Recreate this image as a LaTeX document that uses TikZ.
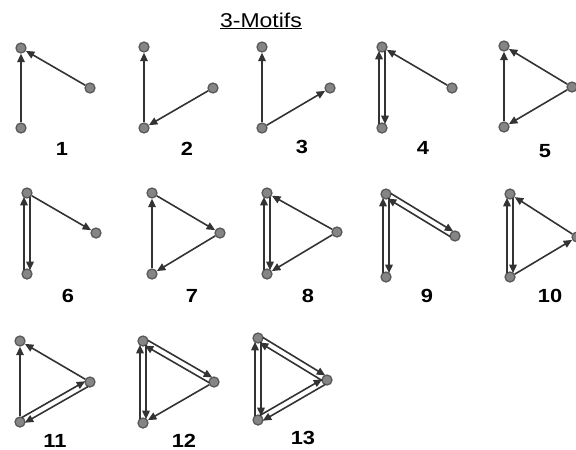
\documentclass[tikz,border=0pt]{standalone}
\usepackage{fontspec}
\newfontfamily\motiffont[FakeStretch=1.15]{Liberation Sans}
\usetikzlibrary{arrows.meta,calc}

\begin{document}
\begin{tikzpicture}[x=1pt,y=-1pt,site/.style={circle,draw=black!65,fill=black!48,line width=1.3pt,minimum size=10pt,inner sep=0pt},link/.style={draw=black!80,line width=1.6pt,-{Triangle[length=8.5pt,width=7.5pt]}},pair/.style={shorten <=3.8pt,shorten >=3.8pt},tag/.style={anchor=base,inner sep=0pt,font=\motiffont\fontsize{19}{19}\selectfont\bfseries}]
\useasboundingbox (0,0) rectangle (576,450);
\node[anchor=base,inner sep=0pt,font=\motiffont\fontsize{20}{20}\selectfont] (title) at (261,27) {\underline{3-Motifs}};
% row 1
\node[site] (t1) at (21,48) {};
\node[site] (b1) at (21,128) {};
\node[site] (r1) at (90,88) {};
\node[site] (t2) at (144,47) {};
\node[site] (b2) at (144,128) {};
\node[site] (r2) at (213,88) {};
\node[site] (t3) at (262,47) {};
\node[site] (b3) at (262,128) {};
\node[site] (r3) at (330,88) {};
\node[site] (t4) at (382,47) {};
\node[site] (b4) at (382,128) {};
\node[site] (r4) at (452,88) {};
\node[site] (t5) at (504,46) {};
\node[site] (b5) at (504,127) {};
\node[site] (r5) at (572,87) {};
% row 2
\node[site] (t6) at (27,193) {};
\node[site] (b6) at (27,274) {};
\node[site] (r6) at (96,233) {};
\node[site] (t7) at (152,193) {};
\node[site] (b7) at (152,274) {};
\node[site] (r7) at (220,233) {};
\node[site] (t8) at (267,193) {};
\node[site] (b8) at (267,274) {};
\node[site] (r8) at (337,232) {};
\node[site] (t9) at (386,194) {};
\node[site] (b9) at (386,277) {};
\node[site] (r9) at (455,236) {};
\node[site] (t10) at (510,194) {};
\node[site] (b10) at (510,277) {};
\node[site] (r10) at (577,237) {};
% row 3
\node[site] (t11) at (20,341) {};
\node[site] (b11) at (20,422) {};
\node[site] (r11) at (90,382) {};
\node[site] (t12) at (143,341) {};
\node[site] (b12) at (143,423) {};
\node[site] (r12) at (214,382) {};
\node[site] (t13) at (258,338) {};
\node[site] (b13) at (258,420) {};
\node[site] (r13) at (327,380) {};
% motif 1
\draw[link] (b1) -- (t1);
\draw[link] (r1) -- (t1);
% motif 2
\draw[link] (b2) -- (t2);
\draw[link] (r2) -- (b2);
% motif 3
\draw[link] (b3) -- (t3);
\draw[link] (b3) -- (r3);
% motif 4
\draw[link,pair] ($(b4)!3pt!90:(t4)$) -- ($(t4)!3pt!-90:(b4)$);
\draw[link,pair] ($(t4)!3pt!90:(b4)$) -- ($(b4)!3pt!-90:(t4)$);
\draw[link] (r4) -- (t4);
% motif 5
\draw[link] (b5) -- (t5);
\draw[link] (r5) -- (t5);
\draw[link] (r5) -- (b5);
% motif 6
\draw[link,pair] ($(b6)!3pt!90:(t6)$) -- ($(t6)!3pt!-90:(b6)$);
\draw[link,pair] ($(t6)!3pt!90:(b6)$) -- ($(b6)!3pt!-90:(t6)$);
\draw[link] (t6) -- (r6);
% motif 7
\draw[link] (b7) -- (t7);
\draw[link] (t7) -- (r7);
\draw[link] (r7) -- (b7);
% motif 8
\draw[link,pair] ($(b8)!3pt!90:(t8)$) -- ($(t8)!3pt!-90:(b8)$);
\draw[link,pair] ($(t8)!3pt!90:(b8)$) -- ($(b8)!3pt!-90:(t8)$);
\draw[link] (r8) -- (t8);
\draw[link] (r8) -- (b8);
% motif 9
\draw[link,pair] ($(b9)!3pt!90:(t9)$) -- ($(t9)!3pt!-90:(b9)$);
\draw[link,pair] ($(t9)!3pt!90:(b9)$) -- ($(b9)!3pt!-90:(t9)$);
\draw[link,pair] ($(t9)!3pt!90:(r9)$) -- ($(r9)!3pt!-90:(t9)$);
\draw[link,pair] ($(r9)!3pt!90:(t9)$) -- ($(t9)!3pt!-90:(r9)$);
% motif 10
\draw[link,pair] ($(b10)!3pt!90:(t10)$) -- ($(t10)!3pt!-90:(b10)$);
\draw[link,pair] ($(t10)!3pt!90:(b10)$) -- ($(b10)!3pt!-90:(t10)$);
\draw[link] (r10) -- (t10);
\draw[link] (b10) -- (r10);
% motif 11
\draw[link] (b11) -- (t11);
\draw[link] (r11) -- (t11);
\draw[link,pair] ($(b11)!3pt!90:(r11)$) -- ($(r11)!3pt!-90:(b11)$);
\draw[link,pair] ($(r11)!3pt!90:(b11)$) -- ($(b11)!3pt!-90:(r11)$);
% motif 12
\draw[link,pair] ($(b12)!3pt!90:(t12)$) -- ($(t12)!3pt!-90:(b12)$);
\draw[link,pair] ($(t12)!3pt!90:(b12)$) -- ($(b12)!3pt!-90:(t12)$);
\draw[link,pair] ($(t12)!3pt!90:(r12)$) -- ($(r12)!3pt!-90:(t12)$);
\draw[link,pair] ($(r12)!3pt!90:(t12)$) -- ($(t12)!3pt!-90:(r12)$);
\draw[link] (r12) -- (b12);
% motif 13
\draw[link,pair] ($(b13)!3pt!90:(t13)$) -- ($(t13)!3pt!-90:(b13)$);
\draw[link,pair] ($(t13)!3pt!90:(b13)$) -- ($(b13)!3pt!-90:(t13)$);
\draw[link,pair] ($(t13)!3pt!90:(r13)$) -- ($(r13)!3pt!-90:(t13)$);
\draw[link,pair] ($(r13)!3pt!90:(t13)$) -- ($(t13)!3pt!-90:(r13)$);
\draw[link,pair] ($(b13)!3pt!90:(r13)$) -- ($(r13)!3pt!-90:(b13)$);
\draw[link,pair] ($(r13)!3pt!90:(b13)$) -- ($(b13)!3pt!-90:(r13)$);
% numbers
\node[tag] (n1) at (62,155) {1};
\node[tag] (n2) at (187,155) {2};
\node[tag] (n3) at (302,153) {3};
\node[tag] (n4) at (423,154) {4};
\node[tag] (n5) at (545,157) {5};
\node[tag] (n6) at (68,302) {6};
\node[tag] (n7) at (192,302) {7};
\node[tag] (n8) at (308,302) {8};
\node[tag] (n9) at (427,302) {9};
\node[tag] (n10) at (550,302) {10};
\node[tag] (n11) at (55,447) {11};
\node[tag] (n12) at (184,447) {12};
\node[tag] (n13) at (303,444) {13};
\end{tikzpicture}
\end{document}
